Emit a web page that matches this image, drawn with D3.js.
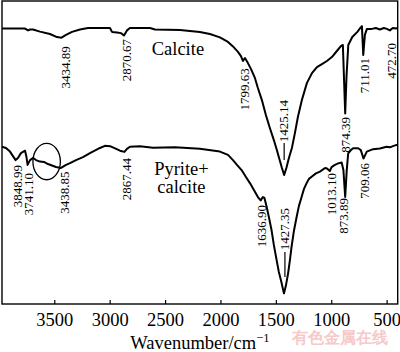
<!DOCTYPE html>
<html>
<head>
<meta charset="utf-8">
<script src="https://cdn.jsdelivr.net/npm/d3@7"></script>
<style>
html,body{margin:0;padding:0;background:#fff;}
svg{display:block;}
text{font-family:"Liberation Serif","Times New Roman",serif;fill:#000;}
</style>
</head>
<body>
<svg id="chart" width="400" height="352"></svg>
<script>
// Wavenumber (cm^-1) and transmittance (arbitrary %, offset spectra)
const calciteWn = [3972,3855,3764,3737,3719,3692,3629,3539,3476,3435,3394,3340,3268,3196,2997,2979,2934,2898,2871,2844,2817,2636,2591,2366,2186,2095,2005,1932,1887,1842,1815,1797,1779,1752,1725,1689,1662,1626,1590,1554,1518,1491,1463,1445,1425,1405,1382,1355,1328,1301,1265,1220,1174,1129,1084,1039,994,949,913,895,874,862,846,810,764,738,723,711,696,678,633,597,561,525,498,471,444,417,400];
const calciteT = [90.9,90.9,90.9,90.3,90.6,90.6,89.9,89.1,88.1,87.9,88.8,89.8,90.6,91.1,91.1,89.8,89.6,89.4,88.6,90.3,91.1,91.1,90.6,90.4,89.8,89.1,88.0,86.5,85.0,83.2,81.8,80.2,81.2,79.5,77.6,74.6,71.3,67.3,62.4,58.1,54.1,50.8,47.2,44.9,42.6,44.9,48.2,51.5,56.4,61.7,67.3,72.9,76.2,78.2,79.2,80.2,81.5,83.5,85.1,85.5,62.9,75.2,85.5,88.1,89.8,91.1,91.7,82.2,88.8,90.8,90.8,91.1,90.6,91.1,90.8,90.3,91.1,90.9,91.1];

const pyriteWn = [3972,3936,3900,3873,3849,3828,3801,3764,3751,3741,3719,3690,3665,3629,3593,3557,3521,3485,3439,3394,3358,3304,3241,3178,3088,3043,2997,2961,2907,2867,2844,2817,2727,2609,2412,2186,2005,1932,1887,1851,1809,1770,1734,1698,1662,1637,1617,1603,1583,1563,1539,1518,1493,1473,1448,1427,1410,1389,1373,1358,1337,1312,1292,1267,1246,1222,1201,1177,1138,1102,1056,1038,1013,997,967,937,906,890,874,860,847,822,802,757,733,709,679,622,561,500,470,443,410,400];
const pyriteT = [51.9,51.5,50.3,48.8,47.5,48.2,49.8,50.6,48.5,45.9,47.5,48.2,47.5,47.0,46.9,46.2,45.7,45.2,44.9,45.9,46.5,47.5,48.5,49.8,51.5,52.2,52.1,51.5,50.6,50.2,51.2,51.9,52.1,51.6,51.7,51.2,50.3,49.2,47.5,45.9,44.2,41.9,39.9,37.6,35.3,34.2,35.3,35.0,32.1,28.7,24.4,19.5,14.5,10.6,6.9,3.5,5.9,10.2,14.5,18.9,24.1,28.8,32.3,35.4,38.0,39.9,41.3,42.0,43.1,43.7,44.9,44.7,43.9,45.2,45.9,46.4,46.7,44.2,35.3,44.2,49.7,50.8,51.4,51.4,50.8,48.0,50.3,51.1,51.3,51.9,51.7,52.1,52.5,52.3];

const tickValues = [3500,3000,2500,2000,1500,1000,500];
const xTitle = "Wavenumber/cm";
const xTitleSup = "\u22121";

// peak annotations: text, label wavenumber, label top (T units)
const calciteLabels = ["3434.89","2870.67","1799.63","1425.14","874.39","711.01","472.70"];
const calciteLabelWn = [3399,2844,1782,1425,872,696,455];
const calciteLabelTop = [85.1,87.5,77.8,67.3,61.7,81.2,86.1];
const pyriteLabels = ["3848.99","3741.10","3438.85","2867.44","1636.90","1427.35","1013.10","873.89","709.06"];
const pyriteLabelWn = [3828,3728,3403,2847,1628,1418,997,885,699];
const pyriteLabelTop = [45.9,43.2,43.7,48.2,32.7,31.7,43.2,35.0,46.5];
// leader dashes below some labels: wavenumber, from T, to T
const leaderWn = [1425,1418];
const leaderFrom = [53.1,17.2];
const leaderTo = [47.5,8.9];

// sample names
const seriesNames = [["Calcite"],["Pyrite+","calcite"]];
const seriesNameWn = [2384,2352];
const seriesNameT = [82.2,42.6];

// marked region (ellipse)
const ellipseWn = [3569,124];
const ellipseT = [47.0,6.0];

const watermark = "有色金属在线";

const svg = d3.select("#chart");
const x = d3.scaleLinear().domain([3972,400]).range([2,397.7]);
const y = d3.scaleLinear().domain([0,100]).range([304,1]);

// frame
svg.append("rect")
  .attr("x", x(3972)).attr("y", y(100))
  .attr("width", x(400)-x(3972)).attr("height", y(0)-y(100))
  .attr("fill","none").attr("stroke","#000").attr("stroke-width",1.4);

// bottom axis
const ax = svg.append("g").attr("transform",`translate(0,${y(0)})`)
  .call(d3.axisBottom(x).tickValues(tickValues).tickFormat(d3.format("d"))
    .tickSize(-4).tickSizeOuter(0).tickPadding(8.5));
ax.select(".domain").remove();
ax.selectAll(".tick line").attr("stroke","#000").attr("stroke-width",1.2);
ax.selectAll(".tick text").attr("font-size",18.5).attr("font-family",'"Liberation Serif","Times New Roman",serif').attr("fill","#000");

// x title
const t = svg.append("text").attr("x",(x(3972)+x(400))/2).attr("y",349)
  .attr("text-anchor","middle").attr("font-size",18.5);
t.append("tspan").text(xTitle);
t.append("tspan").attr("font-size",12.5).attr("dy",-7.5).text(xTitleSup);

// curves
const line = d3.line().x(d=>x(d[0])).y(d=>y(d[1]));
const calcite = calciteWn.map((w,i)=>[w,calciteT[i]]);
const pyrite = pyriteWn.map((w,i)=>[w,pyriteT[i]]);
[calcite,pyrite].forEach(data=>{
  svg.append("path").datum(data).attr("d",line)
    .attr("fill","none").attr("stroke","#000").attr("stroke-width",2)
    .attr("stroke-linejoin","round");
});

// peak labels
function addLabels(texts, wns, tops){
  texts.forEach((s,i)=>{
    const cx = x(wns[i]), ty = y(tops[i]);
    svg.append("text")
      .attr("transform",`translate(${cx},${ty}) rotate(-90)`)
      .attr("text-anchor","end").attr("dy","0.33em")
      .attr("font-size",13).text(s);
  });
}
addLabels(calciteLabels, calciteLabelWn, calciteLabelTop);
addLabels(pyriteLabels, pyriteLabelWn, pyriteLabelTop);

leaderWn.forEach((w,i)=>{
  svg.append("line").attr("x1",x(w)).attr("x2",x(w))
    .attr("y1",y(leaderFrom[i])).attr("y2",y(leaderTo[i]))
    .attr("stroke","#000").attr("stroke-width",1.2);
});

// series names
seriesNames.forEach((lines,i)=>{
  lines.forEach((s,j)=>{
    svg.append("text").attr("x",x(seriesNameWn[i])).attr("y",y(seriesNameT[i]) + j*18.5)
      .attr("text-anchor","middle").attr("font-size",18.5).text(s);
  });
});

// ellipse
svg.append("ellipse")
  .attr("cx",x(ellipseWn[0])).attr("cy",y(ellipseT[0]))
  .attr("rx",Math.abs(x(ellipseWn[0]+ellipseWn[1])-x(ellipseWn[0])))
  .attr("ry",Math.abs(y(ellipseT[0]+ellipseT[1])-y(ellipseT[0])))
  .attr("fill","none").attr("stroke","#000").attr("stroke-width",1.3);

// watermark
svg.append("text").attr("x",388).attr("y",343).attr("text-anchor","end")
  .attr("font-family",'"Noto Sans CJK SC",sans-serif').attr("font-weight","bold")
  .attr("font-size",16).style("fill","#f6caca").text(watermark);
</script>
</body>
</html>
